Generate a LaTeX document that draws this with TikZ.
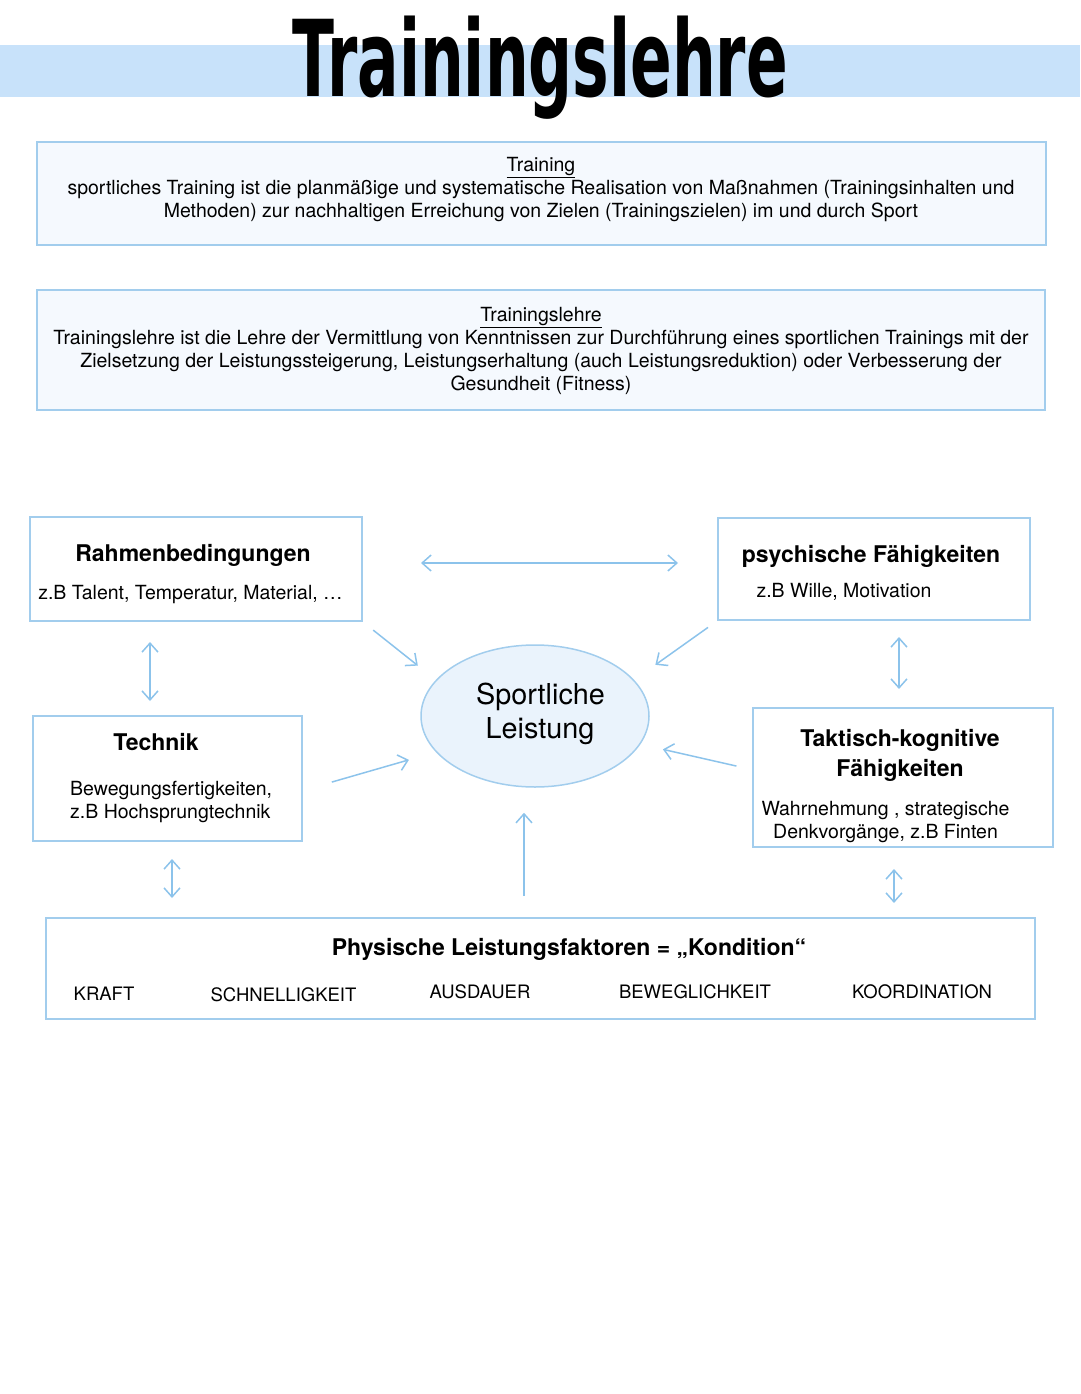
\documentclass[tikz,border=0pt]{standalone}
\usepackage{fontspec}
\setmainfont{TeX Gyre Heros}
\newfontfamily\titlefont{DejaVu Sans}
\usepackage{graphicx}
\usepackage{tikz}
\usetikzlibrary{shapes.geometric,positioning,arrows.meta}
\usepackage{xcolor}
\definecolor{bandblue}{RGB}{200,226,250}
\definecolor{boxblue}{RGB}{162,205,237}
\definecolor{arrowblue}{RGB}{140,195,235}
\definecolor{palefill}{RGB}{245,249,254}
\definecolor{ovalfill}{RGB}{234,243,252}
\tikzstyle{defbox} = [rectangle, draw=boxblue, line width=2pt, fill=palefill]
\tikzstyle{factor} = [rectangle, draw=boxblue, line width=2pt, fill=white]
\tikzstyle{oval} = [ellipse, draw=boxblue, line width=1.5pt, fill=ovalfill, minimum width=228pt, minimum height=142pt]
\tikzstyle{para} = [align=center, inner sep=0pt, font=\fontsize{19.5}{23}\selectfont]
\tikzstyle{head} = [anchor=base, inner sep=0pt, font=\fontsize{23}{29}\selectfont\bfseries]
\tikzstyle{sub} = [anchor=base, inner sep=0pt, font=\fontsize{19.5}{23}\selectfont]
\tikzstyle{item} = [anchor=base, inner sep=0pt, font=\fontsize{18.5}{22}\selectfont]
\tikzstyle{line} = [draw, line width=1.5pt, color=arrowblue, -{Straight Barb[length=9pt,width=16pt]}]
\tikzstyle{both} = [line, {Straight Barb[length=9pt,width=16pt]}-{Straight Barb[length=9pt,width=16pt]}]

\begin{document}
\begin{tikzpicture}[x=1pt,y=-1pt]
	\useasboundingbox (0,0) rectangle (1080,1394);
	%% title band
	\fill[bandblue] (0,45) rectangle (1080,97);
	\node[font=\titlefont\bfseries\fontsize{106}{106}\selectfont, anchor=base, inner sep=0pt] (title) at (540,97) {\scalebox{0.58}[1]{Trainingslehre}};
	%% Training
	\node[defbox, minimum width=1009pt, minimum height=103pt] (training) at (541.5,193.5) {};
	\node[para] (trainingtext) at (541,190) {\underline{Training}\\ sportliches Training ist die planmäßige und systematische Realisation von Maßnahmen (Trainingsinhalten und\\ Methoden) zur nachhaltigen Erreichung von Zielen (Trainingszielen) im und durch Sport};
	%% Trainingslehre
	\node[defbox, minimum width=1008pt, minimum height=120pt] (lehre) at (541,350) {};
	\node[para] (lehretext) at (541,351) {\underline{Trainingslehre}\\ Trainingslehre ist die Lehre der Vermittlung von Kenntnissen zur Durchführung eines sportlichen Trainings mit der\\ Zielsetzung der Leistungssteigerung, Leistungserhaltung (auch Leistungsreduktion) oder Verbesserung der\\ Gesundheit (Fitness)};
	%% Rahmenbedingungen
	\node[factor, minimum width=332pt, minimum height=104pt] (rahmen) at (196,569) {};
	\node[head] (rahmenhd) at (193,561.5) {Rahmenbedingungen};
	\node[sub] (rahmensub) at (190.5,599) {z.B Talent, Temperatur, Material, …};
	%% psychische
	\node[factor, minimum width=312pt, minimum height=102pt] (psych) at (874,569) {};
	\node[head] (psychhd) at (871,562.5) {psychische Fähigkeiten};
	\node[sub] (psychsub) at (844,597.5) {z.B Wille, Motivation};
	%% Sportliche Leistung
	\node[oval] (spl) at (535,716) {};
	\node[anchor=base, inner sep=0pt, font=\fontsize{28.8}{34}\selectfont] (spltop) at (540.5,704) {Sportliche};
	\node[anchor=base, inner sep=0pt, font=\fontsize{28.8}{34}\selectfont] (splbot) at (540,738) {Leistung};
	%% Technik
	\node[factor, minimum width=269pt, minimum height=125pt] (tech) at (167.5,778.5) {};
	\node[head] (techhd) at (156,750.5) {Technik};
	\node[sub, anchor=base west] (techsub) at (70,795.5) {Bewegungsfertigkeiten,};
	\node[sub, anchor=base west] (techsubb) at (70,818.5) {z.B Hochsprungtechnik};
	%% Taktisch-kognitive
	\node[factor, minimum width=300pt, minimum height=139pt] (takt) at (903,777.5) {};
	\node[head] (takthd) at (900,746.5) {Taktisch-kognitive};
	\node[head] (takthdb) at (900,776) {Fähigkeiten};
	\node[sub] (taktsub) at (885.5,815) {Wahrnehmung , strategische};
	\node[sub] (taktsubb) at (885.5,838.5) {Denkvorgänge, z.B Finten};
	%% Kondition
	\node[factor, minimum width=989pt, minimum height=101pt] (cond) at (540.5,968.5) {};
	\node[head] (condhd) at (569,955) {Physische Leistungsfaktoren = „Kondition“};
	\node[item] (kraft) at (104,1000) {KRAFT};
	\node[item] (schnell) at (283.5,1001) {SCHNELLIGKEIT};
	\node[item] (ausdauer) at (480,998.5) {AUSDAUER};
	\node[item] (beweg) at (695,998.5) {BEWEGLICHKEIT};
	\node[item] (koord) at (922,998.5) {KOORDINATION};
	%% edges
	\path[both, shorten <=58pt, shorten >=39pt] ([yshift=6pt]rahmen.east) -- ([yshift=6pt]psych.west);
	\path[line, shorten <=13pt, shorten >=23pt] (rahmen.south east) -- (spl.160);
	\path[line, shorten <=11pt, shorten >=26pt] (psych.south west) -- (spl.20);
	\path[line, shorten <=30pt, shorten >=28pt] (tech.-5) -- (spl.200);
	\path[line, shorten <=16pt, shorten >=23pt] (takt.177) -- (spl.345);
	\path[line, shorten <=21pt, shorten >=25pt] ([xshift=-11pt]spl.south |- cond.north) -- ([xshift=-11pt]spl.south);
	\path[both, shorten <=20pt, shorten >=14pt] ([xshift=-46pt]rahmen.south) -- ([xshift=-46pt]rahmen.south |- tech.north);
	\path[both, shorten <=16pt, shorten >=18pt] ([xshift=25pt]psych.south) -- ([xshift=25pt]psych.south |- takt.north);
	\path[both, shorten <=17pt, shorten >=19pt] ([xshift=4.5pt]tech.south) -- ([xshift=4.5pt]tech.south |- cond.north);
	\path[both, shorten <=21pt, shorten >=14pt] ([xshift=-9pt]takt.south) -- ([xshift=-9pt]takt.south |- cond.north);
\end{tikzpicture}
\end{document}
